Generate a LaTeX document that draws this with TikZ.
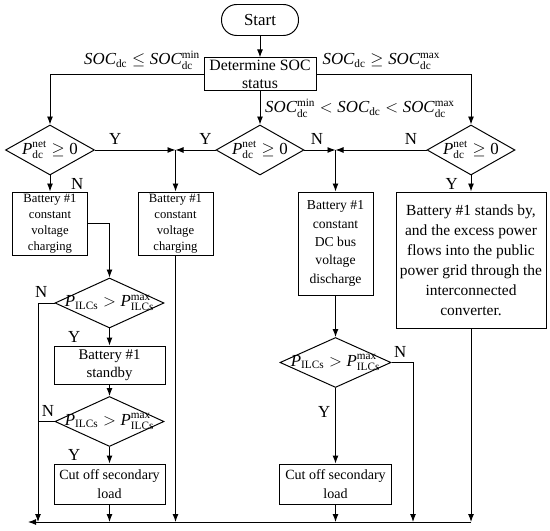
\documentclass[tikz,border=0pt]{standalone}
\usepackage{amsmath}
\usepackage{fontspec}
\setmainfont{Liberation Serif}
\usetikzlibrary{shapes.geometric,arrows.meta}

\newcommand{\soc}{\textit{SOC}}
\newcommand{\dcs}{\text{dc}}
\newcommand{\pnet}{$\textit{P}^{\text{net}}_{\dcs} \geq \text{0}$}
\newcommand{\pilc}{$\textit{P}_{\text{ILCs}} > \textit{P}^{\text{max}}_{\text{ILCs}}$}

\begin{document}
\begin{tikzpicture}[
    line width=0.7pt,
    box/.style={draw, rectangle, align=center, inner sep=1pt},
    decide/.style={draw, diamond, inner sep=0pt, minimum height=1.25cm},
    arr/.style={-{Latex[length=2mm,width=1.5mm]}},
    every label/.style={font=\fontsize{12}{14}\selectfont},
    every node/.append style={font=\fontsize{12}{14}\selectfont}
    ]
    \useasboundingbox (0,0) rectangle (13.75,13.25);

    \node[draw, rounded corners=0.38cm, minimum width=1.925cm, minimum height=0.775cm] (start) at (6.5,12.75) {Start};
    \node[box, inner sep=0pt, minimum width=2.8cm, minimum height=0.825cm, font=\fontsize{11.2}{13}\selectfont] (det) at (6.5,11.39) {Determine SOC\\status};

    \node[decide, minimum width=2.225cm, label=center:{\pnet}] (d1) at (1.25,9.5) {};
    \node[decide, minimum width=2.2cm, label=center:{\pnet}] (d2) at (6.5,9.5) {};
    \node[decide, minimum width=2.2cm, label=center:{\pnet}] (d3) at (11.775,9.5) {};

    \node[box, font=\fontsize{9}{11.4}\selectfont, minimum width=1.875cm, minimum height=1.575cm] (b1) at (1.25,7.6625) {Battery \#1\\constant\\voltage\\charging};
    \node[box, font=\fontsize{9}{11.4}\selectfont, minimum width=1.875cm, minimum height=1.575cm] (b2) at (4.3875,7.6625) {Battery \#1\\constant\\voltage\\charging};
    \node[box, font=\fontsize{9.7}{13}\selectfont, minimum width=1.875cm, minimum height=2.575cm] (b4) at (8.3875,7.1625) {Battery \#1\\constant\\DC bus\\voltage\\discharge};
    \node[box, font=\fontsize{11}{14.2}\selectfont, minimum width=3.75cm, minimum height=3.4cm] (b5) at (11.775,6.75) {Battery \#1 stands by,\\and the excess power\\flows into the public\\power grid through the\\interconnected\\converter.};

    \node[decide, minimum width=2.725cm, label=center:{\pilc}] (d4) at (2.7375,5.675) {};
    \node[box, font=\fontsize{10.5}{13}\selectfont, minimum width=2.775cm, minimum height=0.95cm] (b6) at (2.7375,4.125) {Battery \#1\\standby};
    \node[decide, minimum width=2.725cm, label=center:{\pilc}] (d5) at (2.7375,2.7125) {};
    \node[box, font=\fontsize{10}{13}\selectfont, minimum width=2.775cm, minimum height=1cm] (b7) at (2.7375,1.15) {Cut off secondary\\load};

    \node[decide, minimum width=2.775cm, label=center:{\pilc}] (d6) at (8.3875,4.1875) {};
    \node[box, font=\fontsize{10}{13}\selectfont, minimum width=2.8cm, minimum height=1cm] (b8) at (8.3875,1.15) {Cut off secondary\\load};

    \coordinate (m1) at (4.3875,9.5);
    \coordinate (m2) at (8.3875,9.5);
    \coordinate (bl) at (0.95,0.2);
    \coordinate (n6) at (10.325,0.2);
    \coordinate (out) at (0.7,0.2);

    % top part
    \draw[arr] (start) -- (det);
    \draw[arr] (det.west) -| node[above, pos=0.2]{$\soc_{\dcs} \leq \soc_{\dcs}^{\text{min}}$} (d1.north);
    \draw[arr] (det.east) -| node[above, pos=0.21]{$\soc_{\dcs} \geq \soc_{\dcs}^{\text{max}}$} (d3.north);
    \draw[arr] (det) -- node[right]{$\soc_{\dcs}^{\text{min}} < \soc_{\dcs} < \soc_{\dcs}^{\text{max}}$} (d2);

    \draw[arr] (d1.east) -- node[above, pos=0.25]{Y} (m1);
    \draw[arr] (d2.west) -- node[above, pos=0.25]{Y} (m1);
    \draw[arr] (m1) -- (b2);
    \draw[arr] (d2.east) -- node[above, pos=0.4]{N} (m2);
    \draw[arr] (d3.west) -- node[above, pos=0.17]{N} (m2);
    \draw[arr] (m2) -- (b4);
    \draw[arr] (d1) -- node[right=4mm]{N} (b1);
    \draw[arr] (d3) -- node[left=2mm]{Y} (b5);

    % left branch
    \draw[arr] (b1.east) -| (d4.north);
    \draw[arr] (d4) -- node[left=6mm]{Y} (b6);
    \draw[arr] (b6) -- (d5);
    \draw[arr] (d5) -- node[left=6mm]{Y} (b7);
    \draw[arr] (d4.west) -| node[above, pos=0.4]{N} (bl);
    \draw (d5.west) -- node[above, pos=0.4]{N} (d5.west -| bl);

    % middle branch
    \draw[arr] (b4) -- (d6);
    \draw[arr] (d6) -- node[left, pos=0.32]{Y} (b8);
    \draw[arr] (d6.east) -| node[above, pos=0.2]{N} (n6);

    % bus at the bottom
    \draw[arr] (b2) -- (b2.south |- bl);
    \draw[arr] (b7) -- (b7.south |- bl);
    \draw[arr] (b8) -- (b8.south |- bl);
    \draw[arr] (b5) -- (b5.south |- bl);
    \draw[arr] (b5.south |- bl) -- (out);

\end{tikzpicture}
\end{document}
